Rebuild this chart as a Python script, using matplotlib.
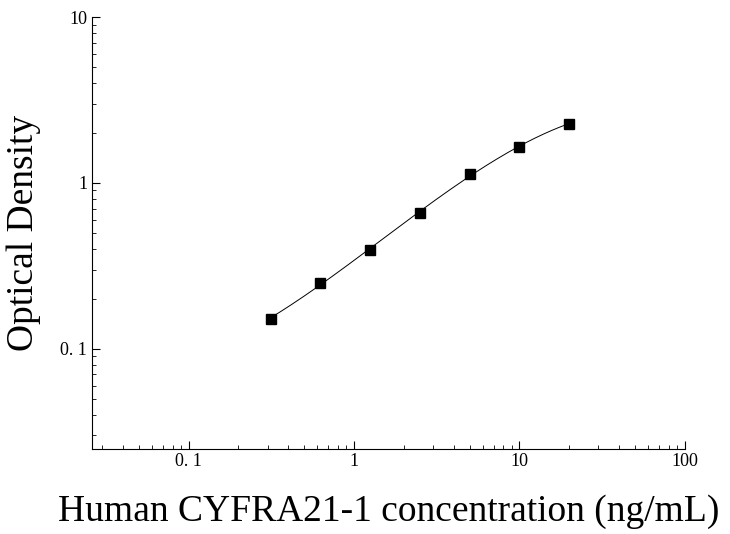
import numpy as np
import matplotlib.pyplot as plt

conc = [0.3125, 0.625, 1.25, 2.5, 5, 10, 20]
od = [0.152, 0.25, 0.395, 0.66, 1.13, 1.65, 2.28]

plt.rcParams['font.family'] = ['Liberation Serif']
fig = plt.figure(figsize=(7.30, 5.34), dpi=100)
ax = fig.add_axes([0.126, 0.16, 0.812, 0.808])

# smooth curve through the standards (cubic in log-log space)
lx, ly = np.log10(conc), np.log10(od)
p = np.polyfit(lx, ly, 3)
xs = np.linspace(lx[0], lx[-1], 200)
ax.plot(10**xs, 10**np.polyval(p, xs), color='black', lw=0.7)
ax.plot(conc, od, 's', color='black', ms=7)

ax.set_xscale('log')
ax.set_yscale('log')
ax.set_xlim(0.026, 100)
ax.set_ylim(0.025, 10)
ax.set_xticks([0.1, 1, 10, 100])
ax.set_xticklabels(['0. 1', '1', '10', '100'])
ax.set_yticks([0.1, 1, 10])
ax.set_yticklabels(['0. 1', '1', '10'])
for s in ['top', 'right']:
    ax.spines[s].set_visible(False)
ax.tick_params(which='both', direction='in', labelsize=13)
ax.tick_params(which='major', length=6)
ax.tick_params(which='minor', length=3)
ax.set_xlabel('Human CYFRA21-1 concentration (ng/mL)', fontsize=27, labelpad=17)
ax.set_ylabel('Optical Density', fontsize=27, labelpad=14)
fig.savefig('out.png')
